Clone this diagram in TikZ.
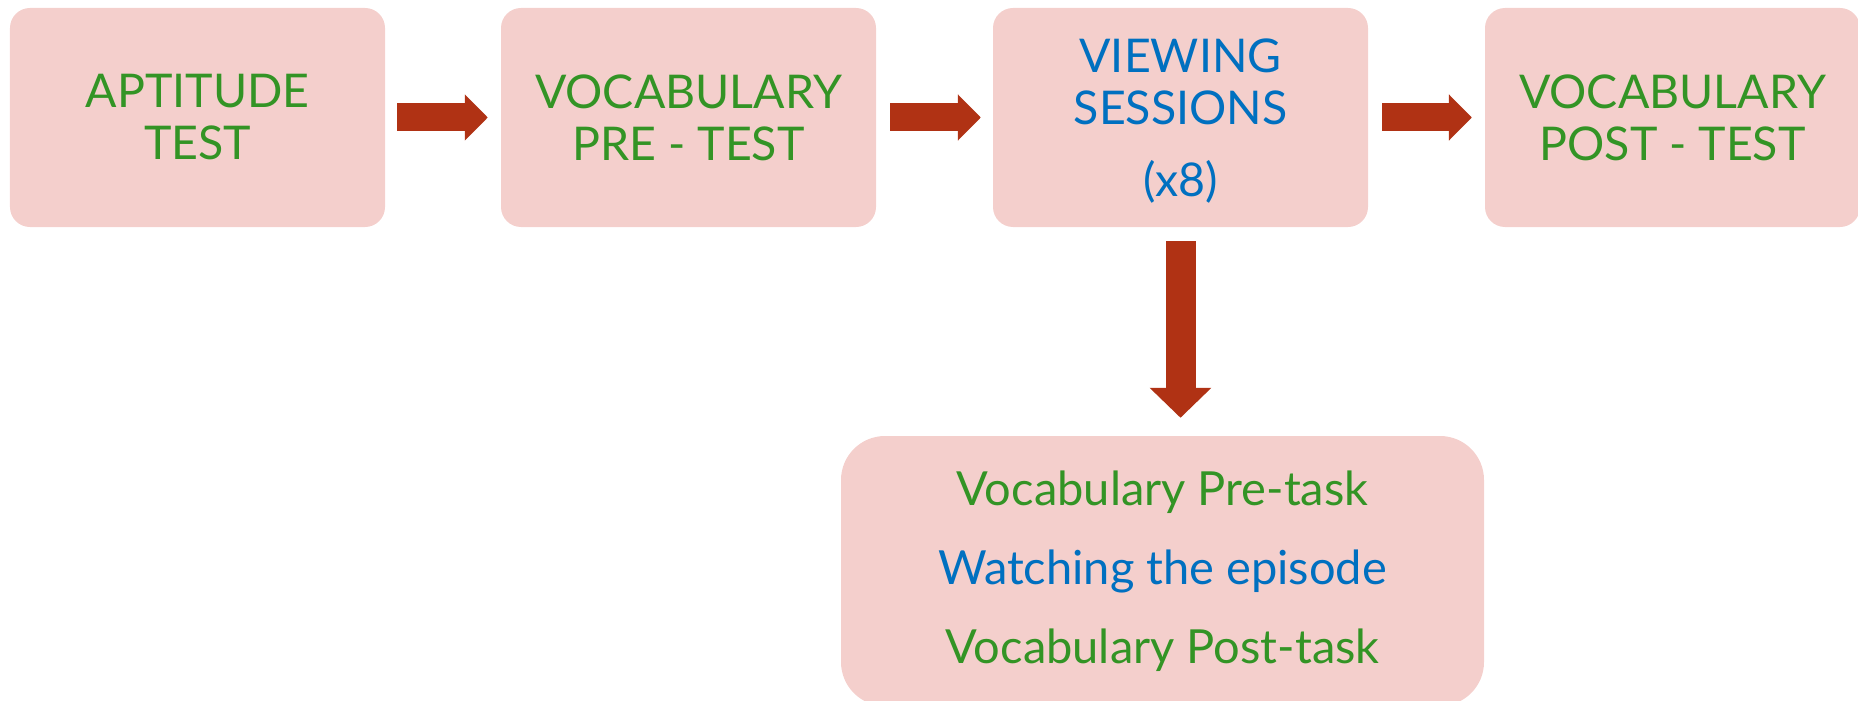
\documentclass[tikz,border=0pt]{standalone}
\usepackage{fontspec}
\setmainfont{Lato}
\usetikzlibrary{arrows.meta,calc}
\definecolor{boxpink}{HTML}{F4CFCC}
\definecolor{txtgreen}{HTML}{339425}
\definecolor{txtblue}{HTML}{0070C0}
\definecolor{arrred}{HTML}{B03214}
\tikzset{
  stagebox/.style={fill=boxpink, draw=none, rounded corners=20bp, minimum width=375bp, minimum height=219bp, align=center, inner sep=0pt, font=\fontsize{46.5bp}{52bp}\selectfont, text=txtgreen},
  bigarrow/.style={draw=arrred, line width=28bp, -{Triangle[width=45bp,length=23bp]}},
  downarrow/.style={draw=arrred, line width=30bp, -{Triangle[width=60bp,length=30bp]}}
}
\begin{document}
\begin{tikzpicture}[x=1bp,y=-1bp]
\useasboundingbox (0,0) rectangle (1858,701);
\clip (0,0) rectangle (1858,701);
\node[stagebox] (b1) at (197.5,117.5) {APTITUDE\\TEST};
\node[stagebox] (b2) at (688.5,117.5) {VOCABULARY\\PRE - TEST};
\node[stagebox] (b3) at (1180.5,117.5) {};
\node[align=center, inner sep=0pt, font=\fontsize{46.5bp}{52bp}\selectfont, text=txtblue] (b3t) at (1180.5,121) {VIEWING\\SESSIONS\\[20bp](x8)};
\node[stagebox] (b4) at (1672.5,117.5) {VOCABULARY\\POST - TEST};
\node[stagebox, rounded corners=44bp, minimum width=643bp, minimum height=270bp, font=\fontsize{47bp}{79bp}\selectfont] (b5) at (1162.5,571) {Vocabulary Pre-task\\\textcolor{txtblue}{Watching the episode}\\Vocabulary Post-task};
\draw[bigarrow, shorten <=12bp, shorten >=13bp] (b1.east) -- (b2.west);
\draw[bigarrow, shorten <=14bp, shorten >=12bp] (b2.east) -- (b3.west);
\draw[bigarrow, shorten <=14bp, shorten >=13bp] (b3.east) -- (b4.west);
\draw[downarrow, shorten <=14bp, shorten >=18bp] (b3.south) -- (b5.north -| b3.south);
\end{tikzpicture}
\end{document}
